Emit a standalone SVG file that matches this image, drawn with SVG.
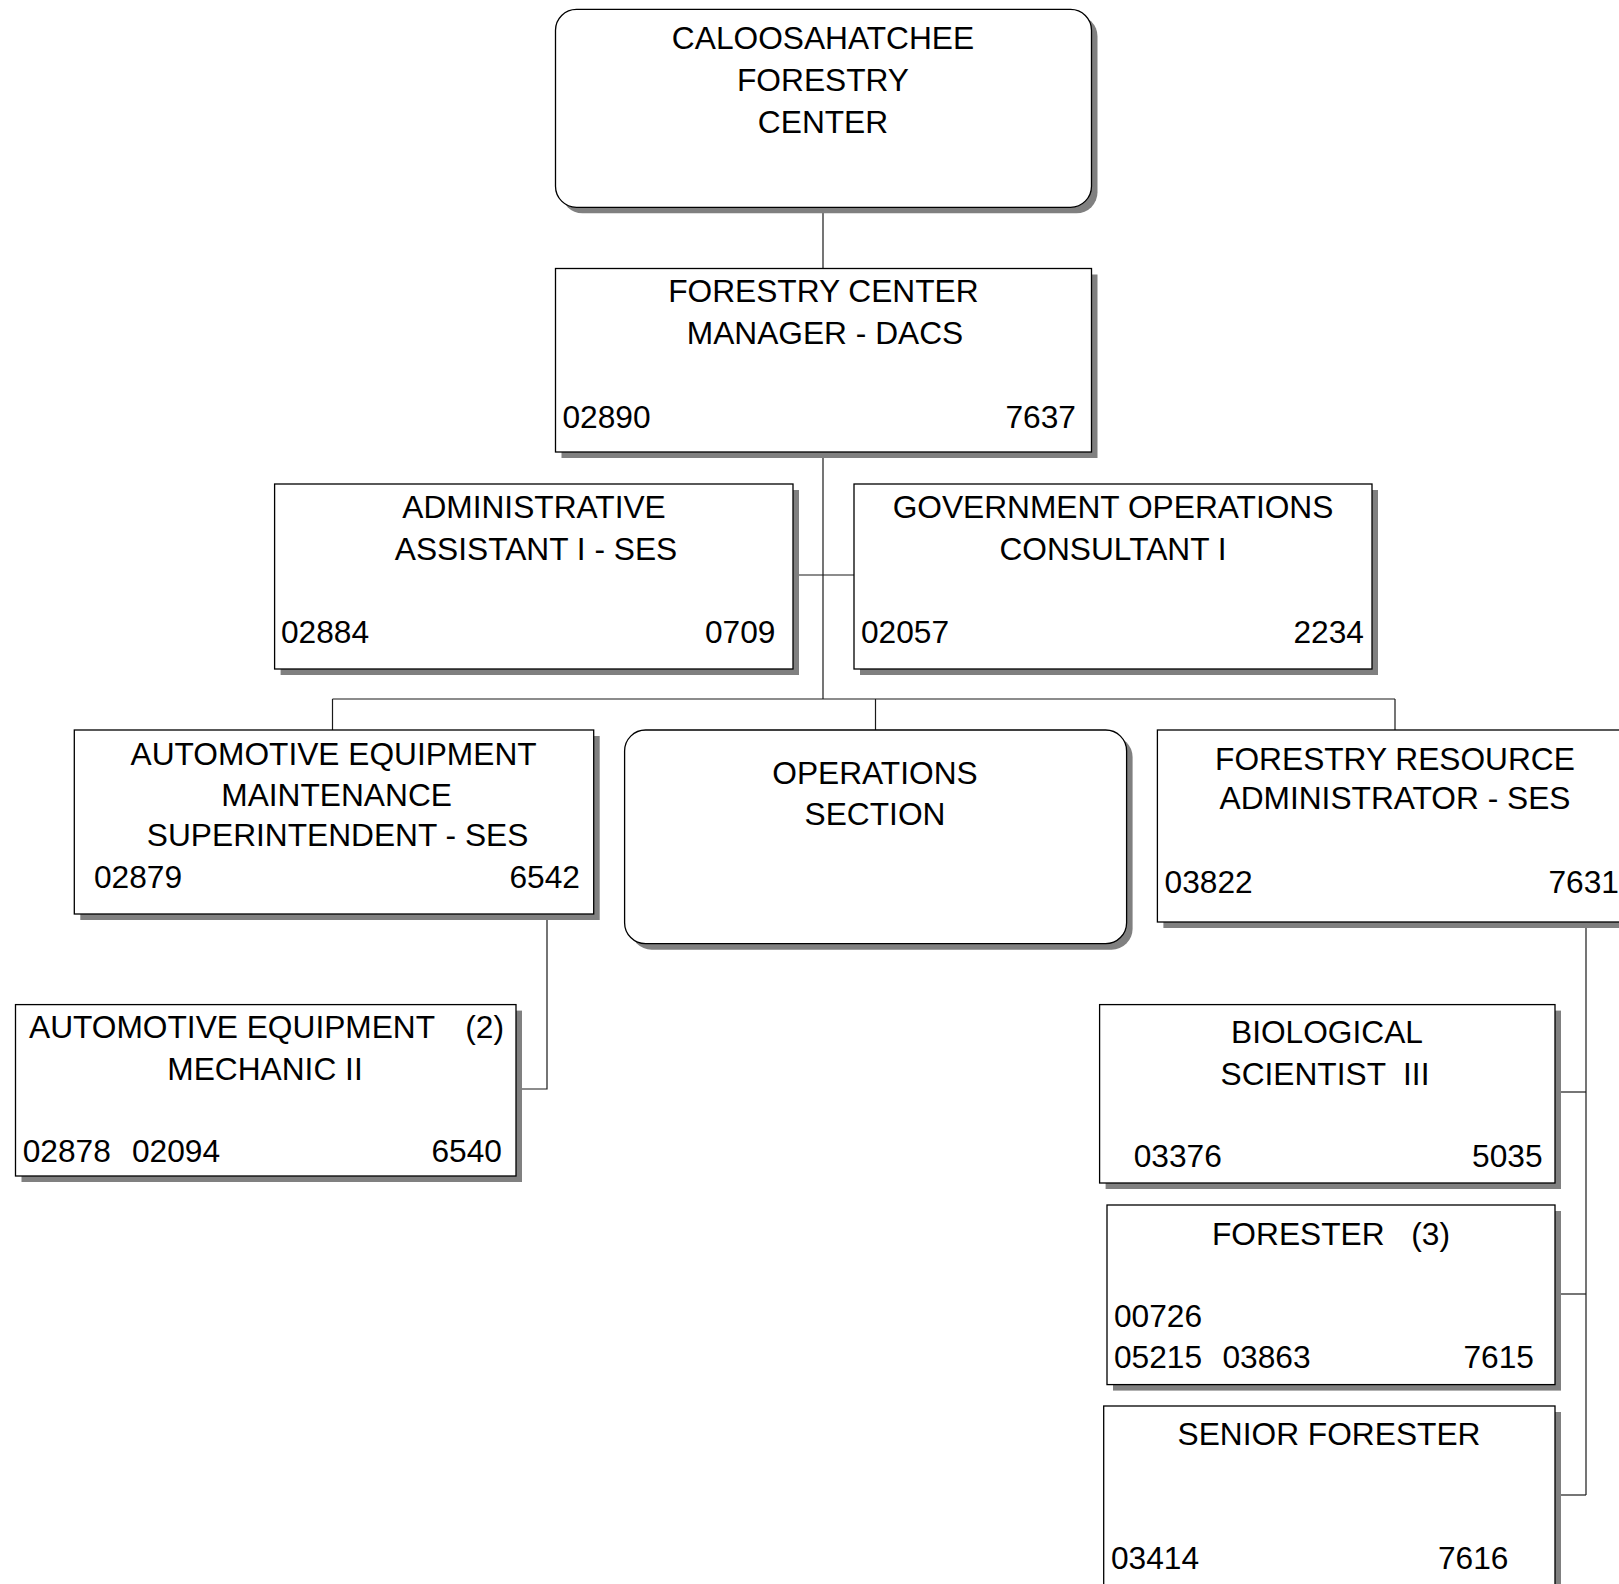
<svg xmlns="http://www.w3.org/2000/svg" width="1619" height="1584" viewBox="0 0 1619 1584">
  <style>
    .box { fill: #ffffff; stroke: #000000; stroke-width: 1.3; }
    .shadow { fill: #808080; stroke: none; }
    .link { fill: none; stroke: #1a1a1a; stroke-width: 1.2; }
    text { font-family: "Liberation Sans", Arial, sans-serif; font-size: 31.7px; fill: #000000; }
    .c { text-anchor: middle; }
    .r { text-anchor: end; }
  </style>
  <rect width="1619" height="1584" fill="#ffffff"/>

  <!-- connectors -->
  <g id="connectors">
    <line class="link" x1="823" y1="207" x2="823" y2="268"/>
    <line class="link" x1="823" y1="452" x2="823" y2="699"/>
    <line class="link" x1="793" y1="575" x2="854" y2="575"/>
    <line class="link" x1="332.5" y1="699" x2="1395" y2="699"/>
    <line class="link" x1="332.5" y1="699" x2="332.5" y2="730"/>
    <line class="link" x1="875.5" y1="699" x2="875.5" y2="730"/>
    <line class="link" x1="1395" y1="699" x2="1395" y2="730"/>
    <polyline class="link" points="547,914 547,1089 516,1089"/>
    <line class="link" x1="1586" y1="922" x2="1586" y2="1495"/>
    <line class="link" x1="1555" y1="1092" x2="1586" y2="1092"/>
    <line class="link" x1="1555" y1="1294" x2="1586" y2="1294"/>
    <line class="link" x1="1555" y1="1495" x2="1586" y2="1495"/>
  </g>

  <!-- center -->
  <g id="center">
    <rect class="shadow" x="561.5" y="15.3" width="536" height="198" rx="21"/>
    <rect class="box" x="555.5" y="9.3" width="536" height="198" rx="21"/>
    <text class="c" x="823" y="49">CALOOSAHATCHEE</text>
    <text class="c" x="823" y="90.5">FORESTRY</text>
    <text class="c" x="823" y="132.5">CENTER</text>
  </g>

  <!-- manager -->
  <g id="manager">
    <rect class="shadow" x="561.5" y="274.5" width="536" height="183.5"/>
    <rect class="box" x="555.5" y="268.5" width="536" height="183.5"/>
    <text class="c" x="823.4" y="302">FORESTRY CENTER</text>
    <text class="c" x="825" y="343.5">MANAGER - DACS</text>
    <text x="562.5" y="428">02890</text>
    <text class="r" x="1076" y="428">7637</text>
  </g>

  <!-- administrative assistant -->
  <g id="admin-assistant">
    <rect class="shadow" x="280.6" y="490" width="518.4" height="185"/>
    <rect class="box" x="274.6" y="484" width="518.4" height="185"/>
    <text class="c" x="534" y="518">ADMINISTRATIVE</text>
    <text class="c" x="536" y="560">ASSISTANT I - SES</text>
    <text x="281" y="643">02884</text>
    <text class="r" x="775.5" y="643">0709</text>
  </g>

  <!-- government operations consultant -->
  <g id="gov-ops-consultant">
    <rect class="shadow" x="860" y="490" width="518" height="185"/>
    <rect class="box" x="854" y="484" width="518" height="185"/>
    <text class="c" x="1113" y="518">GOVERNMENT OPERATIONS</text>
    <text class="c" x="1113" y="560">CONSULTANT I</text>
    <text x="861" y="643">02057</text>
    <text class="r" x="1364" y="643">2234</text>
  </g>

  <!-- automotive equipment maintenance superintendent -->
  <g id="auto-superintendent">
    <rect class="shadow" x="80.3" y="736" width="519.4" height="184"/>
    <rect class="box" x="74.3" y="730" width="519.4" height="184"/>
    <text class="c" x="333.6" y="765">AUTOMOTIVE EQUIPMENT</text>
    <text class="c" x="336.6" y="805.5">MAINTENANCE</text>
    <text class="c" x="337.6" y="845.5">SUPERINTENDENT - SES</text>
    <text x="94" y="888">02879</text>
    <text class="r" x="580" y="888">6542</text>
  </g>

  <!-- operations section -->
  <g id="operations-section">
    <rect class="shadow" x="630.6" y="736" width="502" height="213.7" rx="21"/>
    <rect class="box" x="624.6" y="730" width="502" height="213.7" rx="21"/>
    <text class="c" x="875" y="783.5">OPERATIONS</text>
    <text class="c" x="875" y="825">SECTION</text>
  </g>

  <!-- forestry resource administrator -->
  <g id="resource-administrator">
    <rect class="shadow" x="1163.4" y="736" width="476" height="192"/>
    <rect class="box" x="1157.4" y="730" width="476" height="192"/>
    <text class="c" x="1395" y="770">FORESTRY RESOURCE</text>
    <text class="c" x="1395" y="809">ADMINISTRATOR - SES</text>
    <text x="1164.6" y="893">03822</text>
    <text class="r" x="1619" y="893">7631</text>
  </g>

  <!-- automotive equipment mechanic -->
  <g id="auto-mechanic">
    <rect class="shadow" x="21.5" y="1010.6" width="500.5" height="171.4"/>
    <rect class="box" x="15.5" y="1004.6" width="500.5" height="171.4"/>
    <text x="29" y="1038">AUTOMOTIVE EQUIPMENT</text>
    <text class="r" x="504" y="1038">(2)</text>
    <text class="c" x="265" y="1080">MECHANIC II</text>
    <text x="22.7" y="1162">02878</text>
    <text x="132" y="1162">02094</text>
    <text class="r" x="502" y="1162">6540</text>
  </g>

  <!-- biological scientist -->
  <g id="biological-scientist">
    <rect class="shadow" x="1105.6" y="1010.6" width="455.4" height="178.4"/>
    <rect class="box" x="1099.6" y="1004.6" width="455.4" height="178.4"/>
    <text class="c" x="1327" y="1043">BIOLOGICAL</text>
    <text class="c" x="1325" y="1085" xml:space="preserve">SCIENTIST  III</text>
    <text x="1133.7" y="1166.5">03376</text>
    <text class="r" x="1542.6" y="1166.5">5035</text>
  </g>

  <!-- forester -->
  <g id="forester">
    <rect class="shadow" x="1113" y="1211" width="448" height="179.6"/>
    <rect class="box" x="1107" y="1205" width="448" height="179.6"/>
    <text x="1212" y="1245">FORESTER</text>
    <text class="r" x="1450" y="1245">(3)</text>
    <text x="1114" y="1326.5">00726</text>
    <text x="1114" y="1368">05215</text>
    <text x="1222.5" y="1368">03863</text>
    <text class="r" x="1534" y="1368">7615</text>
  </g>

  <!-- senior forester -->
  <g id="senior-forester">
    <rect class="shadow" x="1109.7" y="1412" width="451.3" height="200"/>
    <rect class="box" x="1103.7" y="1406" width="451.3" height="200"/>
    <text class="c" x="1329" y="1445">SENIOR FORESTER</text>
    <text x="1111" y="1569">03414</text>
    <text class="r" x="1508.5" y="1569">7616</text>
  </g>
</svg>
